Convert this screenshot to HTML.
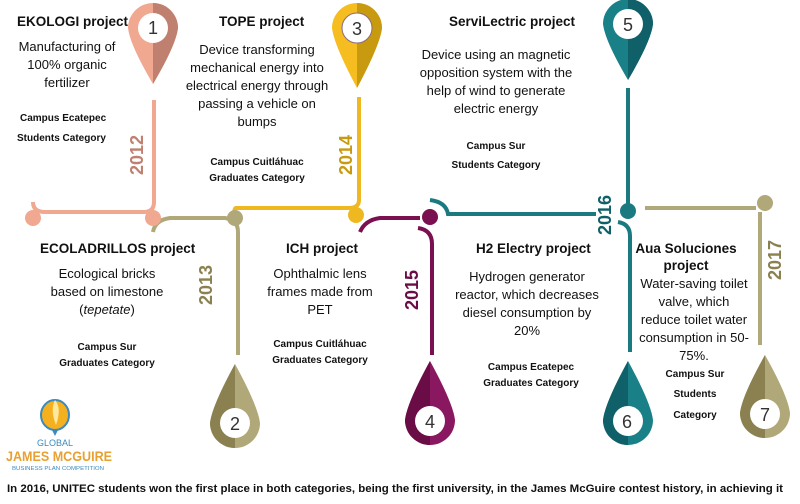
<!DOCTYPE html>
<html><head><meta charset="utf-8"><style>
body{margin:0;background:#fff;}
svg{display:block;font-family:"Liberation Sans",sans-serif;}
.h{font-weight:bold;font-size:13.5px;fill:#111;}
.b{font-size:13px;fill:#111;}
.c{font-weight:bold;font-size:10px;fill:#111;}
.y{font-weight:bold;font-size:18px;}
.n{font-size:18px;fill:#333;}
</style></head><body>
<svg width="800" height="504" viewBox="0 0 800 504">
<g>
<path d="M128,28 A25,25 0 0 1 178,28 Q176,45 153,84 Q130,45 128,28Z" fill="#f0a890"/>
<path d="M153,3 A25,25 0 0 1 178,28 Q176,45 153,84Z" fill="#c08070"/>
<circle cx="153" cy="28" r="15" fill="#fff"/><text x="153" y="34" text-anchor="middle" class="n">1</text>
</g>
<g>
<path d="M332,28 A25,25 0 0 1 382,28 Q380,45 357,88 Q334,45 332,28Z" fill="#f5bd20"/>
<path d="M357,3 A25,25 0 0 1 382,28 Q380,45 357,88Z" fill="#c89a10"/>
<circle cx="357" cy="28" r="15" fill="#fff" stroke="#8a6a80" stroke-width="1"/><text x="357" y="35" text-anchor="middle" class="n">3</text>
</g>
<g>
<path d="M603,24 A25,25 0 0 1 653,24 Q651,41 628,80 Q605,41 603,24Z" fill="#1a8088"/>
<path d="M628,-1 A25,25 0 0 1 653,24 Q651,41 628,80Z" fill="#0f6068"/>
<circle cx="628" cy="24" r="15" fill="#fff"/><text x="628" y="31" text-anchor="middle" class="n">5</text>
</g>
<g>
<path d="M210,423 A25,25 0 0 0 260,423 Q258,406 235,364 Q212,406 210,423Z" fill="#b0a878"/>
<path d="M235,364 Q212,406 210,423 A25,25 0 0 0 235,448Z" fill="#8a8050"/>
<circle cx="235" cy="423" r="15" fill="#fff"/><text x="235" y="430" text-anchor="middle" class="n">2</text>
</g>
<g>
<path d="M405,420 A25,25 0 0 0 455,420 Q453,403 430,361 Q407,403 405,420Z" fill="#8a1860"/>
<path d="M430,361 Q407,403 405,420 A25,25 0 0 0 430,445Z" fill="#6a0c45"/>
<circle cx="430" cy="421" r="15" fill="#fff"/><text x="430" y="428" text-anchor="middle" class="n">4</text>
</g>
<g>
<path d="M603,420 A25,25 0 0 0 653,420 Q651,403 628,361 Q605,403 603,420Z" fill="#1a8088"/>
<path d="M628,361 Q605,403 603,420 A25,25 0 0 0 628,445Z" fill="#0f6068"/>
<circle cx="628" cy="421" r="15" fill="#fff"/><text x="627" y="428" text-anchor="middle" class="n">6</text>
</g>
<g>
<path d="M740,413 A25,25 0 0 0 790,413 Q788,396 765,355 Q742,396 740,413Z" fill="#b0a878"/>
<path d="M765,355 Q742,396 740,413 A25,25 0 0 0 765,438Z" fill="#8a8050"/>
<circle cx="765" cy="414" r="15" fill="#fff"/><text x="765" y="421" text-anchor="middle" class="n">7</text>
</g>
<g fill="none" stroke-width="4">
<path d="M154,100 V202 Q154,212 144,212 H45 Q33,212 33,202" stroke="#f0a890"/>
<path d="M153,232 Q155,220 170,218 H225 Q238,220 238,232 V355" stroke="#b0a878"/>
<path d="M359,97 V200 Q359,208 349,208 H236 Q234,208 234,215" stroke="#f0b820"/>
<path d="M360,232 Q365,220 380,218 H420" stroke="#7a1050"/>
<path d="M418,228 Q432,230 432,244 V355" stroke="#7a1050"/>
<path d="M430,200 Q446,202 448,214 H596" stroke="#1a7a80"/>
<path d="M628,88 V204" stroke="#1a7a80"/>
<path d="M618,222 Q630,224 630,236 V352" stroke="#1a7a80"/>
<path d="M645,208 H756" stroke="#b0a878"/>
<path d="M760,212 V345" stroke="#b0a878"/>
</g>
<circle cx="33" cy="218" r="8" fill="#f0a890"/>
<circle cx="153" cy="218" r="8" fill="#f0a890"/>
<circle cx="235" cy="218" r="8" fill="#b0a878"/>
<circle cx="356" cy="215" r="8" fill="#f0b820"/>
<circle cx="430" cy="217" r="8" fill="#7a1050"/>
<circle cx="628" cy="211" r="8" fill="#1a7a80"/>
<circle cx="765" cy="203" r="8" fill="#b0a878"/>
<text class="y" fill="#c08070" transform="translate(143,175) rotate(-90)">2012</text>
<text class="y" fill="#8a8050" transform="translate(212,305) rotate(-90)">2013</text>
<text class="y" fill="#c89a10" transform="translate(352,175) rotate(-90)">2014</text>
<text class="y" fill="#6a0c45" transform="translate(418,310) rotate(-90)">2015</text>
<text class="y" fill="#0f6068" transform="translate(611,235) rotate(-90)">2016</text>
<text class="y" fill="#8a8050" transform="translate(781,280) rotate(-90)">2017</text>

<text class="h" x="17" y="26">EKOLOGI project</text>
<g class="b" text-anchor="middle"><text x="67" y="51">Manufacturing of</text><text x="67" y="69">100% organic</text><text x="67" y="87">fertilizer</text></g>
<g class="c"><text x="20" y="121">Campus Ecatepec</text><text x="17" y="141">Students Category</text></g>

<text class="h" x="219" y="26">TOPE project</text>
<g class="b" text-anchor="middle"><text x="257" y="54">Device transforming</text><text x="257" y="72">mechanical energy into</text><text x="257" y="90">electrical energy through</text><text x="257" y="108">passing a vehicle on</text><text x="257" y="126">bumps</text></g>
<g class="c" text-anchor="middle"><text x="257" y="165">Campus Cuitláhuac</text><text x="257" y="181">Graduates Category</text></g>

<text class="h" x="449" y="26">ServiLectric project</text>
<g class="b" text-anchor="middle"><text x="496" y="59">Device using an magnetic</text><text x="496" y="77">opposition system with the</text><text x="496" y="95">help of wind to generate</text><text x="496" y="113">electric energy</text></g>
<g class="c" text-anchor="middle"><text x="496" y="149">Campus Sur</text><text x="496" y="168">Students Category</text></g>

<text class="h" x="40" y="253">ECOLADRILLOS project</text>
<g class="b" text-anchor="middle"><text x="107" y="278">Ecological bricks</text><text x="107" y="296">based on limestone</text><text x="107" y="314">(<tspan font-style="italic">tepetate</tspan>)</text></g>
<g class="c" text-anchor="middle"><text x="107" y="350">Campus Sur</text><text x="107" y="366">Graduates Category</text></g>

<text class="h" x="286" y="253">ICH project</text>
<g class="b" text-anchor="middle"><text x="320" y="278">Ophthalmic lens</text><text x="320" y="296">frames made from</text><text x="320" y="314">PET</text></g>
<g class="c" text-anchor="middle"><text x="320" y="347">Campus Cuitláhuac</text><text x="320" y="363">Graduates Category</text></g>

<text class="h" x="476" y="253">H2 Electry project</text>
<g class="b" text-anchor="middle"><text x="527" y="281">Hydrogen generator</text><text x="527" y="299">reactor, which decreases</text><text x="527" y="317">diesel consumption by</text><text x="527" y="335">20%</text></g>
<g class="c" text-anchor="middle"><text x="531" y="370">Campus Ecatepec</text><text x="531" y="386">Graduates Category</text></g>

<g class="h" text-anchor="middle"><text x="686" y="253">Aua Soluciones</text><text x="686" y="270">project</text></g>
<g class="b" text-anchor="middle"><text x="694" y="288">Water-saving toilet</text><text x="694" y="306">valve, which</text><text x="694" y="324">reduce toilet water</text><text x="694" y="342">consumption in 50-</text><text x="694" y="360">75%.</text></g>
<g class="c" text-anchor="middle"><text x="695" y="377">Campus Sur</text><text x="695" y="397">Students</text><text x="695" y="418">Category</text></g>

<ellipse cx="55" cy="415" rx="14" ry="15" fill="#f5b020" stroke="#3a8ac0" stroke-width="2"/>
<path d="M55,400 Q62,408 56,425 Q50,410 55,400Z" fill="#fde8a0"/>
<path d="M52,430 L55,436 L58,430Z" fill="#3a8ac0"/>
<text x="55" y="446" text-anchor="middle" font-size="9" fill="#3a8ac0">GLOBAL</text>
<text x="6" y="461" font-size="14" font-weight="bold" fill="#e8a030" textLength="106" lengthAdjust="spacingAndGlyphs">JAMES MCGUIRE</text>
<text x="12" y="470" font-size="5" fill="#3a8ac0" textLength="92" lengthAdjust="spacingAndGlyphs">BUSINESS PLAN COMPETITION</text>

<text x="7" y="492" font-size="11" font-weight="bold" fill="#111" textLength="776" lengthAdjust="spacingAndGlyphs">In 2016, UNITEC students won the first place in both categories, being the first university, in the James McGuire contest history, in achieving it</text>
</svg>
</body></html>
